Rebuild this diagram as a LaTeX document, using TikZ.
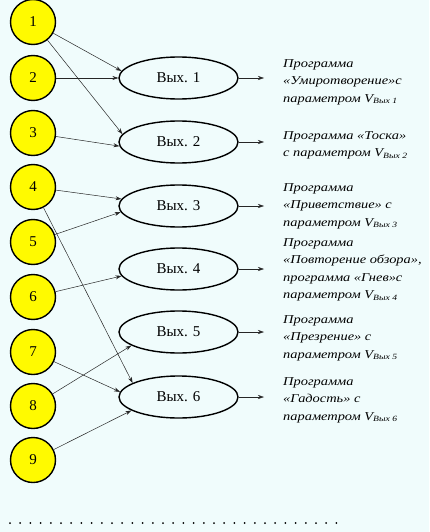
\documentclass[tikz,border=0pt]{standalone}
\usepackage{fontspec}
\setmainfont{Liberation Serif}
\newfontfamily\descfont{Liberation Serif Italic}[FakeStretch=1.2]
\usetikzlibrary{shapes.geometric,arrows.meta}
\definecolor{bg}{RGB}{240,252,252}
\definecolor{yel}{RGB}{255,250,0}
\tikzset{
  circ/.style={circle, draw, line width=1.4pt, fill=yel, minimum size=45pt, inner sep=0pt, font=\fontsize{15}{15}\selectfont},
  ell/.style={ellipse, draw, line width=1.4pt, fill=bg, minimum width=119pt, minimum height=42pt, inner sep=0pt, font=\fontsize{15}{15}\selectfont},
  arr/.style={draw=black!85, line width=0.5pt, -{Stealth[length=6pt,width=4pt]}},
  desc/.style={anchor=north west, inner sep=0pt, align=left, font=\descfont\fontsize{12}{17.5}\selectfont}
}
\begin{document}
\begin{tikzpicture}[x=1pt,y=-1pt]
\fill[bg] (0,0) rectangle (429,532);
\useasboundingbox (0,0) rectangle (429,532);
% input circles
\node[circ] (c1) at (33,22) {1};
\node[circ] (c2) at (33,78) {2};
\node[circ] (c3) at (33,133) {3};
\node[circ] (c4) at (33,187) {4};
\node[circ] (c5) at (33,242) {5};
\node[circ] (c6) at (33,297) {6};
\node[circ] (c7) at (33,352) {7};
\node[circ] (c8) at (33,406) {8};
\node[circ] (c9) at (33,460) {9};
% outputs
\node[ell] (e1) at (178.5,78) {Вых. 1};
\node[ell] (e2) at (178.5,142) {Вых. 2};
\node[ell] (e3) at (178.5,206) {Вых. 3};
\node[ell] (e4) at (178.5,269) {Вых. 4};
\node[ell] (e5) at (178.5,332) {Вых. 5};
\node[ell] (e6) at (178.5,397) {Вых. 6};
% connectors
\draw[arr] (c1) -- (e1.173);
\draw[arr] (c1) -- (e2.172);
\draw[arr] (c2) -- (e1.west);
\draw[arr] (c3) -- (e2.184);
\draw[arr] (c4) -- (e3.173);
\draw[arr] (c4) -- (e6.163);
\draw[arr] (c5) -- (e3.186);
\draw[arr] (c6) -- (e4.187);
\draw[arr] (c7) -- (e6.175);
\draw[arr] (c8) -- (e5.196);
\draw[arr] (c9) -- (e6.196);
% output arrows
\coordinate (o1) at (264,78);
\coordinate (o2) at (264,142);
\coordinate (o3) at (264,206);
\coordinate (o4) at (264,269);
\coordinate (o5) at (264,332);
\coordinate (o6) at (264,397);
\draw[arr] (e1.east) -- (o1);
\draw[arr] (e2.east) -- (o2);
\draw[arr] (e3.east) -- (o3);
\draw[arr] (e4.east) -- (o4);
\draw[arr] (e5.east) -- (o5);
\draw[arr] (e6.east) -- (o6);
% descriptions
\node[desc] (t1) at (283,59) {Программа\\«Умиротворение»с\\параметром V\textsubscript{Вых 1}};
\node[desc] (t2) at (283,131) {Программа «Тоска»\\с параметром V\textsubscript{Вых 2}};
\node[desc] (t3) at (283,183) {Программа\\«Приветствие» с\\параметром V\textsubscript{Вых 3}};
\node[desc] (t4) at (283,238) {Программа\\«Повторение обзора»,\\программа «Гнев»с\\параметром V\textsubscript{Вых 4}};
\node[desc] (t5) at (283,315) {Программа\\«Презрение» с\\параметром V\textsubscript{Вых 5}};
\node[desc] (t6) at (283,377) {Программа\\«Гадость» с\\параметром V\textsubscript{Вых 6}};
% dotted line
\foreach \i in {0,...,32} \fill (10+10.2*\i,523) circle (1pt);
\end{tikzpicture}
\end{document}
